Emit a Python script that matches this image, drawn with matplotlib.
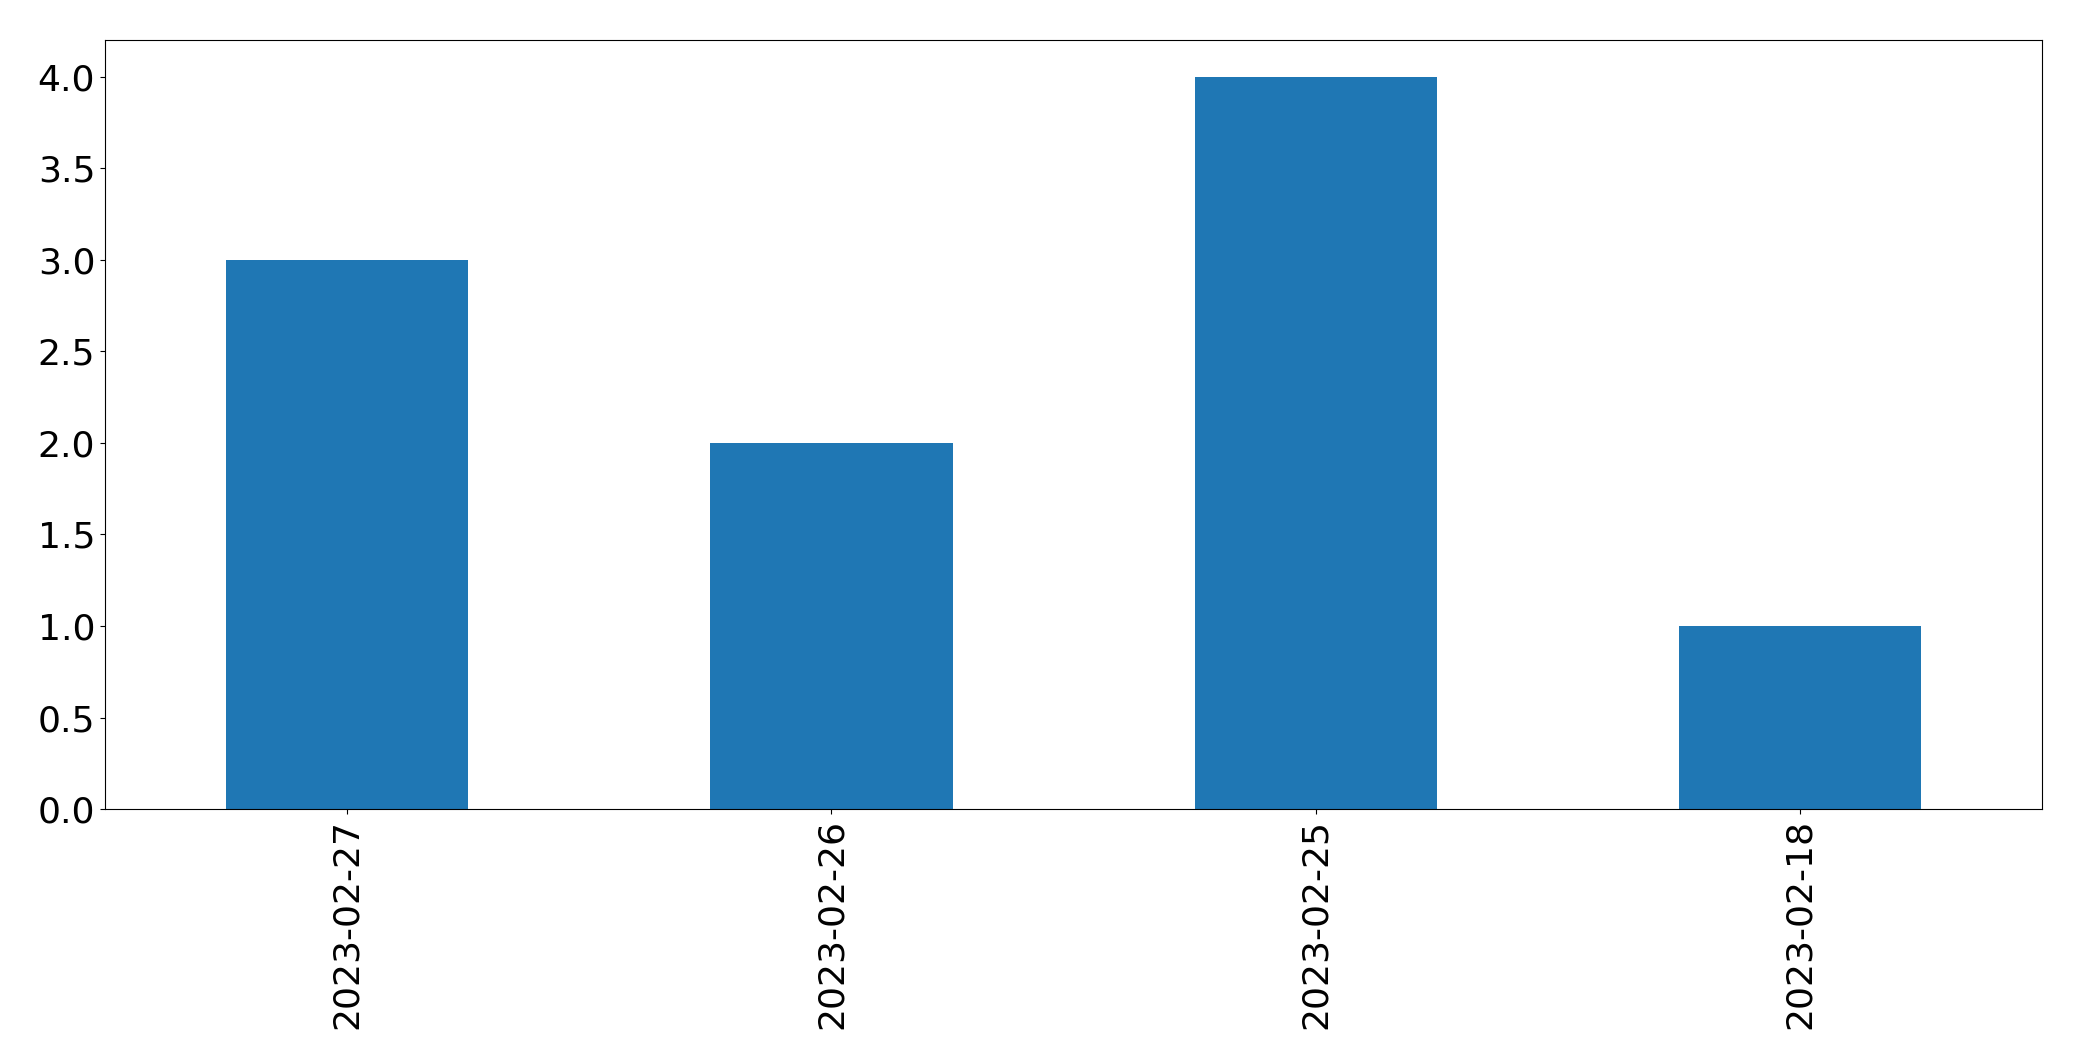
import matplotlib
matplotlib.use("Agg")
import matplotlib.pyplot as plt
import pandas as pd

dates = ["2023-02-27", "2023-02-26", "2023-02-25", "2023-02-18"]
counts = [3, 2, 4, 1]

fig = plt.figure(figsize=(20.82, 10.61), dpi=100)
ax = fig.add_axes([0.0504, 0.2375, 0.9306, 0.7245])
s = pd.Series(counts, index=dates)
s.plot(kind="bar", ax=ax, color="#1f77b4", width=0.5)
ax.tick_params(axis="both", labelsize=26)
fig.savefig("out.png", dpi=100)
